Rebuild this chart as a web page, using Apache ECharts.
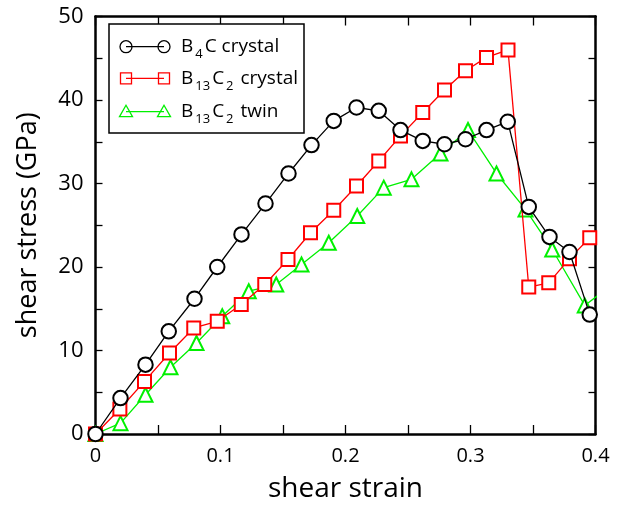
<!DOCTYPE html>
<html><head><meta charset="utf-8">
<script src="https://cdn.jsdelivr.net/npm/echarts@6/dist/echarts.min.js"></script>
<style>html,body{margin:0;padding:0;background:#fff}#c{width:618px;height:508px}</style>
</head><body><div id="c"></div>
<script>
const FONT = '"Open Sans", "Noto Sans", sans-serif';
const seriesNames = ['B4C crystal', 'B13C2 crystal', 'B13C2 twin'];
const strainB4C = [0, 0.020, 0.040, 0.0586, 0.0792, 0.0974, 0.1168, 0.136, 0.1544, 0.1728, 0.1906, 0.2088, 0.2266, 0.244, 0.2618, 0.2792, 0.296, 0.3128, 0.3298, 0.3466, 0.3632, 0.3792, 0.3954];
const stressB4C = [0, 4.3, 8.3, 12.3, 16.2, 20.0, 23.9, 27.6, 31.2, 34.6, 37.5, 39.1, 38.7, 36.4, 35.1, 34.7, 35.3, 36.4, 37.4, 27.2, 23.6, 21.8, 14.3];
const strainB13C2 = [0, 0.0195, 0.0392, 0.0592, 0.0786, 0.0974, 0.1166, 0.1354, 0.154, 0.172, 0.1906, 0.2088, 0.2266, 0.244, 0.2618, 0.2792, 0.296, 0.3128, 0.330, 0.3466, 0.3626, 0.3792, 0.3954];
const stressB13C2 = [0, 3.0, 6.3, 9.7, 12.7, 13.5, 15.5, 17.9, 20.9, 24.1, 26.8, 29.7, 32.7, 35.7, 38.5, 41.2, 43.5, 45.1, 46.0, 17.6, 18.1, 21.0, 23.5];
const strainTwin = [0, 0.02, 0.04, 0.06, 0.0808, 0.1014, 0.1226, 0.1446, 0.1648, 0.1866, 0.2094, 0.2306, 0.2528, 0.276, 0.298, 0.3208, 0.344, 0.3654, 0.3914, 0.41];
const stressTwin = [0, 1.3, 4.7, 8.0, 10.9, 14.1, 17.1, 17.9, 20.3, 22.9, 26.1, 29.5, 30.5, 33.6, 36.4, 31.2, 26.9, 22.1, 15.4, 17.5];
const xTicks = [0, 0.1, 0.2, 0.3, 0.4];
const yTicks = [0, 10, 20, 30, 40, 50];

const zip = (a, b) => a.map((v, i) => [v, b[i]]);
const colors = ['#000000', '#ff0000', '#00f000'];
const symbols = ['emptyCircle', 'emptyRect', 'emptyTriangle'];
const sizes = [14.5, 13, 14];
const datasets = [zip(strainB4C, stressB4C), zip(strainB13C2, stressB13C2), zip(strainTwin, stressTwin)];

const chart = echarts.init(document.getElementById('c'), null, {renderer: 'canvas'});
const tickFmtX = v => (v === 0 ? '0' : String(+v.toFixed(1)));
const baseX = {
  type: 'value', min: xTicks[0], max: xTicks[xTicks.length - 1], interval: 0.1,
  axisLine: {show: true, onZero: false, lineStyle: {color: '#000', width: 2.5}},
  axisTick: {show: true, inside: true, length: 9, lineStyle: {color: '#000', width: 1.3}},
  minorTick: {show: true, splitNumber: 2, length: 9, lineStyle: {color: '#000', width: 1.3}},
  splitLine: {show: false}
};
const baseY = {
  type: 'value', min: yTicks[0], max: yTicks[yTicks.length - 1], interval: 10,
  axisLine: {show: true, onZero: false, lineStyle: {color: '#000', width: 2.5}},
  axisTick: {show: true, inside: true, length: 7, lineStyle: {color: '#000', width: 1.3}},
  minorTick: {show: true, splitNumber: 2, length: 7, lineStyle: {color: '#000', width: 1.3}},
  splitLine: {show: false}
};
const legendRows = [46.7, 78.3, 111.7];
const legendText = [
  '{n|B}{s|4}{n|C crystal}',
  '{n|B}{s|13}{n|C}{s|2}{n| crystal}',
  '{n|B}{s|13}{n|C}{s|2}{n| twin}'
];
const graphics = [{
  type: 'rect', shape: {x: 109, y: 24, width: 195, height: 109},
  style: {fill: '#fff', stroke: '#000', lineWidth: 1.5}, z: 100
}];
legendRows.forEach((y, i) => {
  graphics.push({type: 'line', shape: {x1: 126, y1: y, x2: 164, y2: y}, style: {stroke: colors[i], lineWidth: 1.3}, z: 101});
  [126, 164].forEach(x => {
    if (i === 0) graphics.push({type: 'circle', shape: {cx: x, cy: y, r: 6}, style: {fill: 'none', stroke: colors[i], lineWidth: 1.3}, z: 102});
    if (i === 1) graphics.push({type: 'rect', shape: {x: x - 5.5, y: y - 5.5, width: 11, height: 11}, style: {fill: 'none', stroke: colors[i], lineWidth: 1.3}, z: 102});
    if (i === 2) graphics.push({type: 'polygon', shape: {points: [[x, y - 6.5], [x + 6.5, y + 5], [x - 6.5, y + 5]]}, style: {fill: 'none', stroke: colors[i], lineWidth: 1.3}, z: 102});
  });
  graphics.push({
    type: 'text', x: 181, y: y, z: 103,
    style: {
      text: legendText[i], verticalAlign: 'middle', fill: '#000',
      rich: {
        n: {fontFamily: FONT, fontSize: 19, fill: '#000', lineHeight: 28, verticalAlign: 'middle'},
        s: {fontFamily: FONT, fontSize: 13, fill: '#000', lineHeight: 28, verticalAlign: 'bottom', padding: [8, 2, 0, 2]}
      }
    }
  });
});

chart.setOption({
  animation: false,
  backgroundColor: '#fff',
  grid: {left: 95.5, right: 22.5, top: 16.5, bottom: 70.5},
  xAxis: [
    Object.assign({}, baseX, {
      position: 'bottom',
      axisLabel: {show: true, formatter: tickFmtX, fontFamily: FONT, fontSize: 20, color: '#000', margin: 12},
      name: 'shear strain', nameLocation: 'middle', nameGap: 41,
      nameTextStyle: {fontFamily: FONT, fontSize: 28, color: '#000'}
    }),
    Object.assign({}, baseX, {position: 'top', axisLabel: {show: false}})
  ],
  yAxis: [
    Object.assign({}, baseY, {
      position: 'left',
      axisLabel: {show: true, fontFamily: FONT, fontSize: 22, color: '#000', margin: 12},
      name: 'shear stress (GPa)', nameLocation: 'middle', nameGap: 54,
      nameTextStyle: {fontFamily: FONT, fontSize: 27, color: '#000'}
    }),
    Object.assign({}, baseY, {position: 'right', axisLabel: {show: false}})
  ],
  series: datasets.map((d, i) => ({
    name: seriesNames[i], type: 'line', data: d, xAxisIndex: 0, yAxisIndex: 0,
    symbol: symbols[i], symbolSize: sizes[i], showAllSymbol: true, clip: true,
    lineStyle: {color: colors[i], width: 1.3},
    itemStyle: {color: colors[i], borderWidth: 1.3},
    z: 10 - i
  })),
  graphic: graphics
});
</script></body></html>
